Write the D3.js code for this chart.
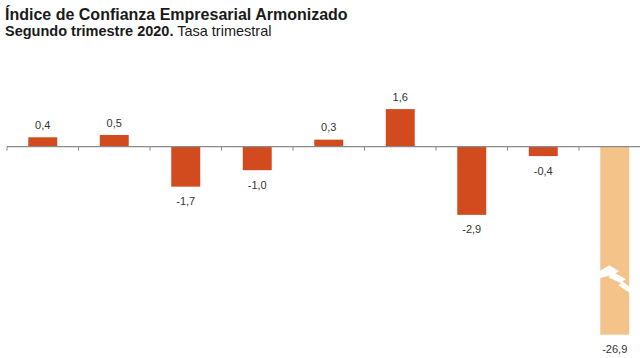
<!DOCTYPE html>
<html>
<head>
<meta charset="utf-8">
<script src="https://cdn.jsdelivr.net/npm/d3@7"></script>
<style>
  body { margin: 0; background: #fff; }
  svg { display: block; font-family: "Liberation Sans", Arial, sans-serif; }
</style>
</head>
<body>
<svg id="chart" width="640" height="358"></svg>
<script>
const categories = ["2018T2", "2018T3", "2018T4", "2019T1", "2019T2", "2019T3", "2019T4", "2020T1", "2020T2"];
const values = [0.4, 0.5, -1.7, -1.0, 0.3, 1.6, -2.9, -0.4, -26.9];
const labels = ["0,4", "0,5", "-1,7", "-1,0", "0,3", "1,6", "-2,9", "-0,4", "-26,9"];
const highlight = [false, false, false, false, false, false, false, false, true];

const svg = d3.select("#chart");
const W = 640, H = 358;

const x = d3.scaleBand().domain(categories).range([7, 650.5]).paddingInner(0.595).paddingOuter(0.2975);
const y = d3.scaleLinear().domain([-8, 2]).range([334.7, 99.7]).clamp(true);

// title
svg.append("text").attr("x", 5).attr("y", 20)
  .attr("font-size", 16).attr("font-weight", "bold").attr("fill", "#1a1a1a")
  .text("Índice de Confianza Empresarial Armonizado");
const st = svg.append("text").attr("x", 5).attr("y", 36).attr("font-size", 14.5).attr("fill", "#1a1a1a");
st.append("tspan").attr("font-weight", "bold").text("Segundo trimestre 2020.");
st.append("tspan").text(" Tasa trimestral");

// bars
svg.append("g").selectAll("rect").data(values).join("rect")
  .attr("x", (d, i) => x(categories[i]))
  .attr("width", x.bandwidth())
  .attr("y", d => Math.min(y(d), y(0)))
  .attr("height", d => Math.abs(y(d) - y(0)))
  .attr("fill", (d, i) => highlight[i] ? "#F3C38A" : "#D24B1F");

// axis
const axisG = svg.append("g").attr("transform", `translate(0,${y(0)})`);
axisG.append("line").attr("x1", 7).attr("x2", W).attr("y1", 0).attr("y2", 0)
  .attr("stroke", "#8a8a8a").attr("stroke-width", 1.3);
const gap = (x.step() - x.bandwidth()) / 2;
axisG.selectAll("line.tick").data(categories).join("line").attr("class", "tick")
  .attr("x1", d => x(d) - gap)
  .attr("x2", d => x(d) - gap)
  .attr("y1", 0).attr("y2", 4)
  .attr("stroke", "#8a8a8a").attr("stroke-width", 1);

// value labels
svg.append("g").selectAll("text").data(values).join("text")
  .attr("x", (d, i) => x(categories[i]) + x.bandwidth() / 2)
  .attr("y", d => d >= 0 ? y(d) - 8.4 : y(d) + 18.5)
  .attr("text-anchor", "middle")
  .attr("font-size", 11).attr("fill", "#333")
  .text((d, i) => labels[i]);

// axis break bolt on truncated bar
const bi = highlight.indexOf(true);
const bx = x(categories[bi]);
const bw = x.bandwidth();
const by = y(-5);
const bolt = [[-1, 7], [9, 1], [19, 7], [15, 9], [26, 15], [22, 17], [bw + 1, 23], [bw + 1, 29], [18, 21], [21, 19], [8, 13], [11, 11], [-1, 14]];
svg.append("path")
  .attr("d", d3.line()(bolt.map(p => [bx + p[0], by + p[1]])) + "Z")
  .attr("fill", "#fff");
</script>
</body>
</html>
